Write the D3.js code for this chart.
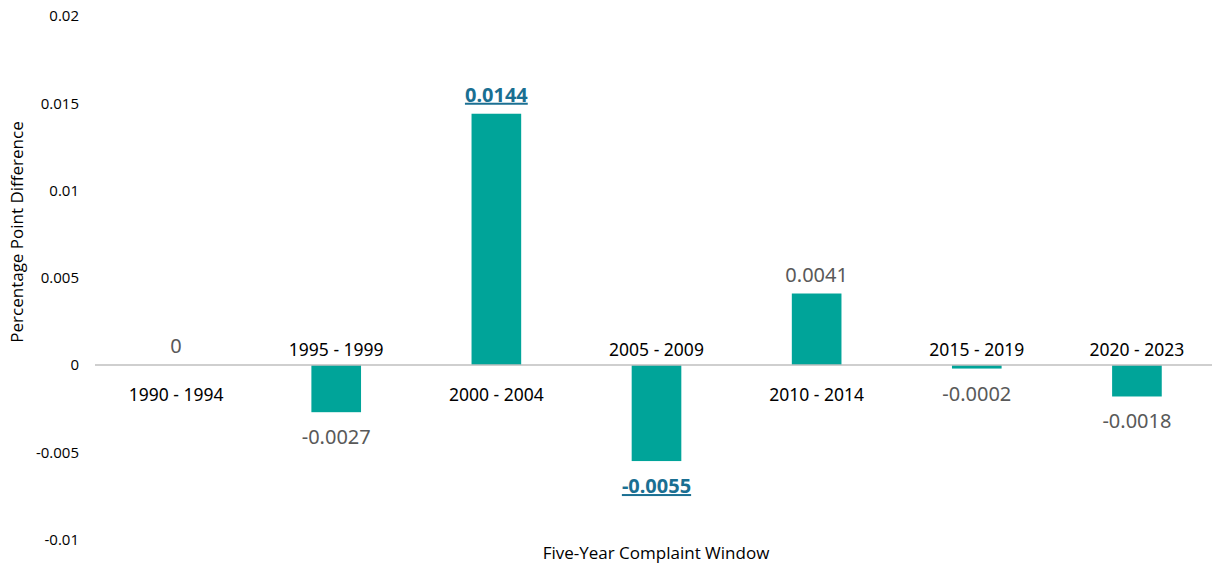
<!DOCTYPE html>
<html><head><meta charset="utf-8">
<script src="https://cdn.jsdelivr.net/npm/d3@7"></script>
<style>body{margin:0;background:#fff}</style>
</head><body>
<svg id="c" width="1214" height="567"></svg>
<script>
const categories = ["1990 - 1994","1995 - 1999","2000 - 2004","2005 - 2009","2010 - 2014","2015 - 2019","2020 - 2023"];
const values = [0, -0.0027, 0.0144, -0.0055, 0.0041, -0.0002, -0.0018];
const valueLabels = ["0","-0.0027","0.0144","-0.0055","0.0041","-0.0002","-0.0018"];
const highlighted = [false,false,true,true,false,false,false];
const yTicks = [-0.01,-0.005,0,0.005,0.01,0.015,0.02];
const yTickLabels = ["-0.01","-0.005","0","0.005","0.01","0.015","0.02"];

const svg = d3.select("#c");
const x = d3.scaleBand().domain(categories).range([96,1217]).paddingInner(0.69).paddingOuter(0.345);
const y = d3.scaleLinear().domain([-0.01,0.02]).range([539.6,16]);

const font = "'Open Sans', sans-serif";

// y tick labels
svg.append("g").selectAll("text").data(yTicks).join("text")
  .attr("x",79).attr("y",d=>y(d)).attr("dy","0.35em")
  .attr("text-anchor","end").attr("font-family",font).attr("font-size",15).attr("fill","#000")
  .text((d,i)=>yTickLabels[i]);

// bars
svg.append("g").selectAll("rect").data(values).join("rect")
  .attr("x",(d,i)=>x(categories[i])).attr("width",x.bandwidth())
  .attr("y",d=>y(Math.max(0,d))).attr("height",d=>Math.abs(y(d)-y(0)))
  .attr("fill","#00A499");

// baseline
svg.append("line").attr("x1",95).attr("x2",1212).attr("y1",y(0)).attr("y2",y(0))
  .attr("stroke","#bfbfbf").attr("stroke-width",1.5);

// category labels
svg.append("g").selectAll("text").data(values).join("text")
  .attr("x",(d,i)=>x(categories[i])+x.bandwidth()/2)
  .attr("y",d=> d<0 ? y(0)-9 : y(0)+36)
  .attr("text-anchor","middle").attr("font-family","'Noto Sans', sans-serif").attr("font-size",17.5).attr("fill","#000")
  .text((d,i)=>categories[i]);

// value labels
svg.append("g").selectAll("text").data(values).join("text")
  .attr("x",(d,i)=>x(categories[i])+x.bandwidth()/2)
  .attr("y",d=> d<0 ? y(d)+32 : y(d)-12)
  .attr("text-anchor","middle").attr("font-family","'Noto Sans', sans-serif")
  .attr("font-size",20)
  .attr("font-weight",(d,i)=>highlighted[i]?"bold":"normal")
  .attr("text-decoration",(d,i)=>highlighted[i]?"underline":"none")
  .attr("fill",(d,i)=>highlighted[i]?"#1A6F92":"#595959")
  .text((d,i)=>valueLabels[i]);

// axis titles
svg.append("text").attr("transform","translate(23,232) rotate(-90)")
  .attr("text-anchor","middle").attr("font-family",font).attr("font-size",17).attr("fill","#000")
  .text("Percentage Point Difference");
svg.append("text").attr("x",656).attr("y",559)
  .attr("text-anchor","middle").attr("font-family",font).attr("font-size",17).attr("fill","#000")
  .text("Five-Year Complaint Window");
</script>
</body></html>
